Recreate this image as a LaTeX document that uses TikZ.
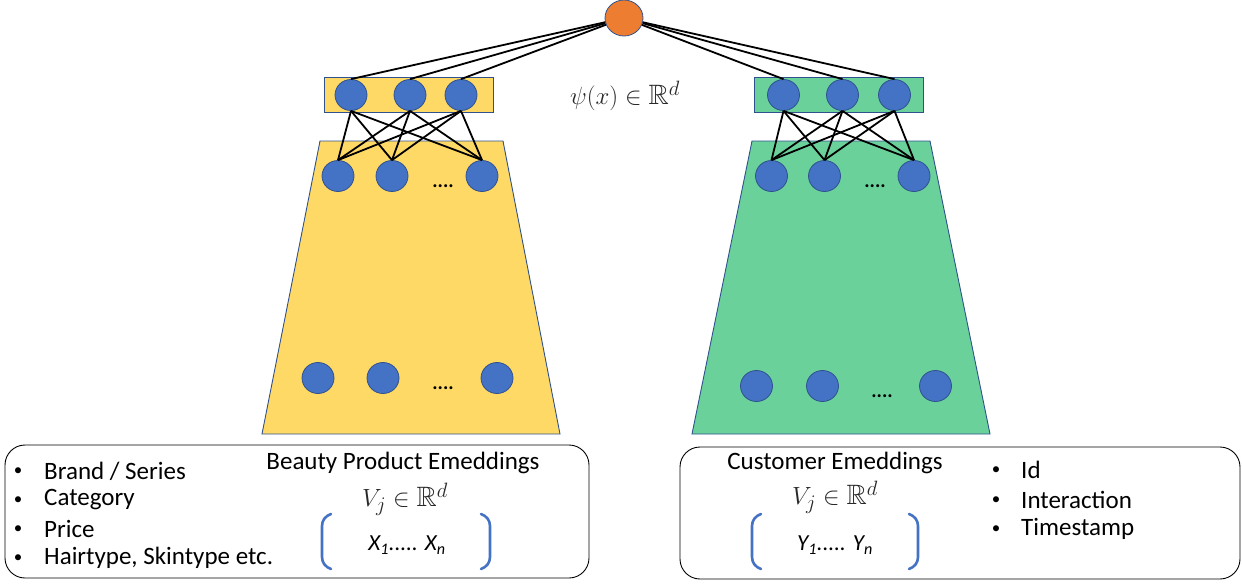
\documentclass[tikz,border=0pt]{standalone}
\usepackage[no-math]{fontspec}
\setmainfont{Carlito}
\usepackage{amssymb}
\usetikzlibrary{shapes.geometric}
\definecolor{cyel}{RGB}{255,217,102}
\definecolor{cgrn}{RGB}{106,209,155}
\definecolor{cblu}{RGB}{68,114,196}
\definecolor{cbld}{RGB}{47,82,143}
\definecolor{corg}{RGB}{237,125,49}
\definecolor{cgray}{RGB}{40,40,40}
\begin{document}
\begin{tikzpicture}[x=1pt,y=-1pt,
  neuron/.style={ellipse,draw=cbld,line width=0.8pt,fill=cblu,minimum width=32pt,minimum height=31pt,inner sep=0pt},
  outn/.style={ellipse,draw=cbld,line width=0.8pt,fill=corg,minimum width=38pt,minimum height=36pt,inner sep=0pt},
  link/.style={black,line width=1.8pt},
  panel/.style={draw=cbld,line width=0.9pt},
  bigbox/.style={draw=black,line width=0.9pt,rounded corners=20pt},
  brk/.style={draw=cblu,line width=2.6pt,line cap=round},
  txt/.style={font=\fontsize{25}{30}\selectfont,inner sep=0pt},
  dots/.style={font=\fontsize{20}{24}\selectfont\bfseries,inner sep=0pt},
  bul/.style={font=\fontsize{17}{20}\selectfont,inner sep=0pt},
  mth/.style={font=\fontsize{28}{32}\selectfont,inner sep=0pt,text=cgray},
  emb/.style={font=\fontsize{28}{32}\selectfont,inner sep=0pt,text=cgray}]
\useasboundingbox (0,0) rectangle (1242,586);
% panels
\draw[panel,fill=cyel] (320,141) -- (503,141) -- (560,434) -- (262,434) -- cycle;
\draw[panel,fill=cgrn] (752,141) -- (930,141) -- (990,434) -- (692,434) -- cycle;
\draw[panel,fill=cyel] (324,77) rectangle (493,112);
\draw[panel,fill=cgrn] (754,77) rectangle (923,112);
% output
\node[outn] (o) at (624,18) {};
% left top layer
\node[neuron] (lt1) at (351,95) {};
\node[neuron] (lt2) at (410,95) {};
\node[neuron] (lt3) at (461,95) {};
% right top layer
\node[neuron] (rt1) at (783.5,95) {};
\node[neuron] (rt2) at (842.5,95) {};
\node[neuron] (rt3) at (894.5,95) {};
% left row1
\node[neuron] (la1) at (338,176) {};
\node[neuron] (la2) at (392,176) {};
\node[neuron] (la3) at (482,176) {};
\node[dots] (ld1) at (443,186) {....};
% right row1
\node[neuron] (ra1) at (771.5,176) {};
\node[neuron] (ra2) at (824.5,176) {};
\node[neuron] (ra3) at (914,176) {};
\node[dots] (rd1) at (875,186) {....};
% left row2
\node[neuron] (lb1) at (318,378) {};
\node[neuron] (lb2) at (383,378) {};
\node[neuron] (lb3) at (497,378) {};
\node[dots] (ld2) at (443,388) {....};
% right row2
\node[neuron] (rb1) at (756.5,386) {};
\node[neuron] (rb2) at (822.5,386) {};
\node[neuron] (rb3) at (935.5,386) {};
\node[dots] (rd2) at (882,396) {....};
% links to output
\foreach \n in {lt1,lt2,lt3,rt1,rt2,rt3}
  \draw[link] (\n.north) -- (o);
% links between layers
\foreach \a in {lt1,lt2,lt3}
  \foreach \b in {la1,la2,la3}
    \draw[link] (\a.south) -- (\b.north);
\foreach \a in {rt1,rt2,rt3}
  \foreach \b in {ra1,ra2,ra3}
    \draw[link] (\a.south) -- (\b.north);
% label
\node[mth] (psi) at (625,96) {$\psi(x)\in\mathbb{R}^d$};
% bottom boxes
\draw[bigbox] (5,445) rectangle (589,578);
\draw[bigbox] (680,447) rectangle (1240,579);
% left bullets
\node[bul] (lb01) at (18,472) {•};
\node[bul] (lb02) at (18,501) {•};
\node[bul] (lb03) at (18,530) {•};
\node[bul] (lb04) at (18,559) {•};
\node[txt,anchor=west] (li1) at (44,471) {Brand / Series};
\node[txt,anchor=west] (li2) at (44,500) {Category};
\node[txt,anchor=west] (li3) at (44,529) {Price};
\node[txt,anchor=west] (li4) at (44,558) {Hairtype, Skintype etc.};
\node[txt] (lt) at (403,463) {Beauty Product Emeddings};
\node[emb] (lv) at (405,499) {$V_j\in\mathbb{R}^d$};
\node[txt,font=\fontsize{23}{28}\selectfont] (lx) at (407,545) {\itshape X\textsubscript{1}..... X\textsubscript{n}};
\draw[brk] (331,514) to[out=200,in=90] (322,526) -- (322,557) to[out=-90,in=160] (331,569);
\draw[brk] (481,514) to[out=-20,in=90] (490,526) -- (490,557) to[out=-90,in=20] (481,569);
% right
\node[txt] (rt) at (835,463) {Customer Emeddings};
\node[emb] (rv) at (835,497) {$V_j\in\mathbb{R}^d$};
\node[txt,font=\fontsize{23}{28}\selectfont] (ry) at (835,545) {\itshape Y\textsubscript{1}..... Y\textsubscript{n}};
\draw[brk] (761,514) to[out=200,in=90] (752,526) -- (752,557) to[out=-90,in=160] (761,569);
\draw[brk] (909,514) to[out=-20,in=90] (918,526) -- (918,557) to[out=-90,in=20] (909,569);
\node[bul] (rb01) at (996,471) {•};
\node[bul] (rb02) at (996,501) {•};
\node[bul] (rb03) at (996,530) {•};
\node[txt,anchor=west] (ri1) at (1021,470) {Id};
\node[txt,anchor=west] (ri2) at (1021,500) {Interaction};
\node[txt,anchor=west] (ri3) at (1021,529) {Timestamp};
\end{tikzpicture}
\end{document}
